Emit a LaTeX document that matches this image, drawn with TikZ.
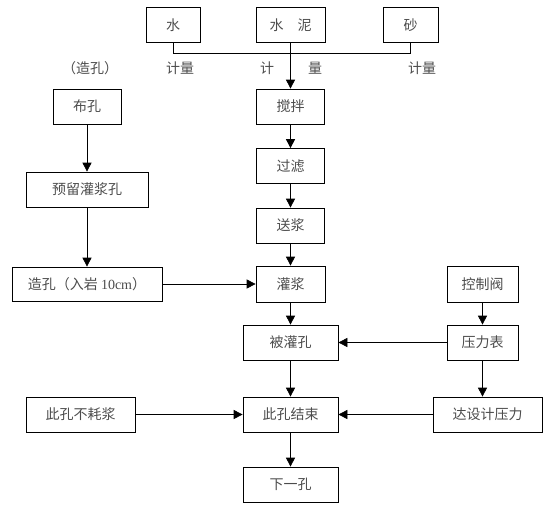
\documentclass[tikz,border=0pt]{standalone}
\usepackage{fontspec}
\setmainfont{Liberation Serif}
\newfontfamily\cjk{Noto Sans CJK SC}
\usetikzlibrary{arrows.meta}

\tikzset{
	box/.style={draw,line width=0.7pt,minimum height=35pt,inner sep=0pt,text=black!70,font=\cjk\fontsize{14pt}{16pt}\selectfont},
	lbl/.style={text=black!70,inner sep=0pt,font=\cjk\fontsize{14pt}{16pt}\selectfont},
	arr/.style={line width=0.7pt,-{Triangle[length=9pt,width=9pt]}}
}

\begin{document}
\begin{tikzpicture}[x=1pt,y=-1pt]
	\useasboundingbox (0,0) rectangle (554,511);
	% materials
	\node[box,minimum width=54pt] (shui) at (173,25) {水};
	\node[box,minimum width=69pt] (shuini) at (290.5,25) {水\hspace{1em}泥};
	\node[box,minimum width=55pt] (sha) at (410.5,25) {砂};
	\node[lbl] (jl1) at (180,68) {计量};
	\node[lbl] (jl2a) at (267,68) {计};
	\node[lbl] (jl2b) at (315,68) {量};
	\node[lbl] (jl3) at (422,68) {计量};
	% main column
	\node[box,minimum width=68pt] (jiaoban) at (290.5,106.5) {搅拌};
	\node[box,minimum width=68pt] (guolv) at (290.5,166) {过滤};
	\node[box,minimum width=68pt] (songjiang) at (290.5,225.5) {送浆};
	\node[box,minimum width=69pt,minimum height=36pt] (guanjiang) at (290.5,284) {灌浆};
	\node[box,minimum width=95pt] (beiguan) at (290.5,342.5) {被灌孔};
	\node[box,minimum width=95pt] (jieshu) at (290.5,414.5) {此孔结束};
	\node[box,minimum width=95pt] (xiayi) at (290.5,484.5) {下一孔};
	% left column
	\node[lbl] (zaokong) at (90,68) {（造孔）};
	\node[box,minimum width=68pt] (bukong) at (87,106.5) {布孔};
	\node[box,minimum width=122pt] (yuliu) at (87,189.5) {预留灌浆孔};
	\node[box,minimum width=150pt,minimum height=34pt] (ruyan) at (87,284) {造孔（入岩 {\rmfamily 10cm}）};
	\node[box,minimum width=109pt] (buhao) at (80.5,414.5) {此孔不耗浆};
	% right column
	\node[box,minimum width=71pt,minimum height=36pt] (famen) at (482.5,284) {控制阀};
	\node[box,minimum width=71pt] (yali) at (482.5,342.5) {压力表};
	\node[box,minimum width=109pt] (sheji) at (487.5,414.5) {达设计压力};

	\draw[line width=0.7pt] (shui.south) -- ++(0,11) -| (sha.south);
	\draw[arr] (shuini.south) -- (jiaoban.north);
	\draw[arr] (jiaoban) -- (guolv);
	\draw[arr] (guolv) -- (songjiang);
	\draw[arr] (songjiang) -- (guanjiang);
	\draw[arr] (guanjiang) -- (beiguan);
	\draw[arr] (beiguan) -- (jieshu);
	\draw[arr] (jieshu) -- (xiayi);
	\draw[arr] (bukong) -- (yuliu);
	\draw[arr] (yuliu) -- (ruyan);
	\draw[arr] (ruyan) -- (guanjiang);
	\draw[arr] (buhao) -- (jieshu);
	\draw[arr] (famen) -- (yali);
	\draw[arr] (yali) -- (beiguan);
	\draw[arr] (yali) -- (sheji.north -| yali);
	\draw[arr] (sheji) -- (jieshu);
\end{tikzpicture}
\end{document}
